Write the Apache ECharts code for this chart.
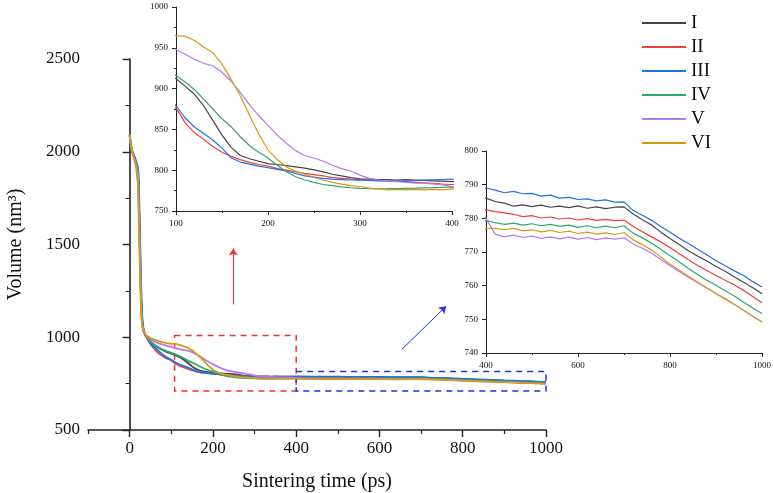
<!DOCTYPE html>
<html>
<head>
<meta charset="utf-8">
<script src="https://cdn.jsdelivr.net/npm/echarts@6/dist/echarts.min.js"></script>
<style>
html,body{margin:0;padding:0;background:#fff;}
#chart{width:774px;height:493px;}
</style>
</head>
<body>
<div id="chart"></div>
<script>
// sintering time (ps)
const times = [0,5,10,15,20,22,25,28,30,33,36,40,50,60,70,80,90,
  100,110,120,130,140,150,160,170,180,190,200,210,220,230,240,250,260,270,280,290,300,310,320,330,340,350,360,370,380,390,400,
  420,440,460,480,500,520,540,560,580,600,620,640,660,680,700,720,740,760,780,800,820,840,860,880,900,920,940,960,980,1000];

// volume (nm^3) for each case
const volI = [2088,2010,1975,1945,1900,1780,1450,1180,1090,1040,1022,1008,978,958,942,930,920,
  912,903,893,879,861,843,828,818,814,811,808,807,805.5,804,802.5,800.5,798,795,793,791,789.5,789,788.5,788.5,788,788.5,788,787.5,787,786.5,786,
  785.0,784.5,783.6,784.0,783.5,783.9,783.3,783.6,783.2,783.7,783.0,783.4,782.9,783.3,783.4,781.3,779.6,778.0,775.9,774.0,772.2,770.4,768.8,767.3,765.7,764.3,762.6,761.0,759.4,757.6];
const volII = [2088,2008,1972,1940,1890,1760,1430,1160,1080,1035,1015,1000,962,935,912,897,885,
  876,858,846,838,829,822,817,813,809.5,807,805,802,800,798,796,794.5,793,791,790,789,788.5,788,787.5,787,786.5,786,785,784.5,784,783,782.5,
  782.0,781.6,781.2,780.5,780.8,780.1,780.4,779.8,780.1,779.5,779.9,779.4,779.7,779.3,779.5,777.6,776.0,774.5,773.0,771.3,769.5,767.7,766.0,764.5,763.0,761.6,760.2,758.6,756.8,754.9];
const volIII = [2085,2005,1985,1955,1915,1850,1560,1250,1120,1050,1025,1005,968,945,925,905,890,
  879,864,853,845,837,827,815,810,807.5,805,803,801,799,796,793,791.5,790,789,788.5,788,787.8,787.5,787,786.8,786.8,787,787.3,787.8,788.2,788.6,789,
  788.4,787.6,788.0,787.3,787.4,786.6,786.9,786.0,786.2,785.6,785.8,785.2,785.5,784.8,784.9,782.3,780.9,779.4,777.6,775.9,774.1,772.5,770.8,769.2,767.4,765.9,764.4,763.0,761.2,759.6];
const volIV = [2088,2008,1975,1945,1895,1770,1440,1170,1085,1040,1020,1006,978,958,945,933,924,
  916,908,899,887,875,863,853,841,830,822,815,806,798,792,788,785,782.5,781,779.5,778.5,777.8,777.4,777.2,777.3,777.5,777.8,778,778.3,778.6,779,779.4,
  778.7,778.2,778.6,778.0,778.4,777.8,778.2,777.6,778.0,777.3,777.8,777.2,777.7,777.2,777.8,775.6,774.2,772.6,770.8,768.9,767.1,765.1,763.3,761.6,760.1,758.5,756.9,755.1,753.4,751.7];
const volV = [2090,2010,1970,1935,1870,1700,1380,1130,1070,1035,1020,1008,990,977,967,960,954,
  948,942,936,931,928,920,909,895,880,867,855,843,833,824,818,815,811,806,802,799,794,790,788,787,786,785,784,784,783,782,780,
  775.3,774.5,775.0,774.3,774.7,774.0,774.5,773.9,774.4,773.8,774.3,773.7,774.2,773.8,774.2,772.4,771.1,769.6,767.8,765.9,764.2,762.5,760.9,759.3,757.7,756.2,754.4,752.7,750.9,749.2];
const volVI = [2092,2012,1965,1925,1820,1620,1330,1110,1060,1035,1022,1010,996,987,979,972,968,
  965,964,959,951,944,930,911,891,867,844,825,813,804,799,795,791,788,785,783,781,780,778,777,776,776.5,776,776.5,776,776.5,776,777,
  777.0,776.6,777.0,776.3,776.6,776.0,776.4,775.8,776.2,775.5,775.9,775.3,775.7,775.2,775.8,773.6,772.2,770.6,768.5,766.4,764.6,762.8,761.0,759.3,757.6,756.0,754.4,752.7,750.9,749.2];

const names = ['I','II','III','IV','V','VI'];
const volumes = [volI, volII, volIII, volIV, volV, volVI];
const colors = ['#454545','#f0403c','#2270e6','#2fa86c','#b37af0','#d69c16'];

// zoom boxes and arrows (data coords of main plot)
const redBox = [[108,1010],[400,710]];
const blueBox = [[400,815],[1000,710]];
const redArrow = [[249,1177],[249,1478]];
const blueArrow = [[654,935],[760,1167]];

const mainXMajor = [0,200,400,600,800,1000];
const mainXMinor = [-100,100,300,500,700,900];

const serif = 'Liberation Serif';
const plain = function(v){ return String(v); };
const chart = echarts.init(document.getElementById('chart'));

function axisBase(size){
  return {
    axisLine:{show:true,lineStyle:{color:'#222',width:size>12?1.6:1}},
    axisTick:{show:true,length:size>12?7:4,lineStyle:{color:'#222',width:size>12?1.4:1}},
    minorTick:{show:true,splitNumber:2,length:size>12?4:2,lineStyle:{color:'#222'}},
    splitLine:{show:false},
    axisLabel:{color:'#111',fontFamily:serif,fontSize:size,formatter:plain}
  };
}

const series = [];
[0,1,2].forEach(function(g){
  names.forEach(function(n,i){
    const s = {
      name:n, type:'line', xAxisIndex:g===0?0:g+1, yAxisIndex:g,
      data: times.map(function(t,k){return [t, volumes[i][k]];}),
      showSymbol:false, symbol:'none', clip:true,
      lineStyle:{color:colors[i],width:g===0?1.8:1.2},
      itemStyle:{color:colors[i]},
      z:2+i
    };
    if(g===0 && i===0){
      s.markArea = {
        silent:true,
        itemStyle:{color:'rgba(0,0,0,0)',borderWidth:1.5,borderType:[6,5]},
        data:[
          [{coord:redBox[0],itemStyle:{borderColor:'#f03030'}},{coord:redBox[1]}],
          [{coord:blueBox[0],itemStyle:{borderColor:'#2030e0'}},{coord:blueBox[1]}]
        ]
      };
      s.markLine = {
        silent:true, symbol:['none','arrow'], symbolSize:7,
        label:{show:false},
        data:[
          [{coord:redArrow[0],lineStyle:{color:'#f03030',width:1,type:'solid'}},{coord:redArrow[1]}],
          [{coord:blueArrow[0],lineStyle:{color:'#2030e0',width:1,type:'solid'}},{coord:blueArrow[1]}]
        ]
      };
    }
    series.push(s);
  });
});

chart.setOption({
  animation:false,
  backgroundColor:'#fff',
  legend:{
    data:names, orient:'vertical', left:637, top:8,
    icon:'rect', itemWidth:44, itemHeight:2, itemGap:4,
    textStyle:{fontFamily:serif,fontSize:19,color:'#111',lineHeight:20}
  },
  grid:[
    {left:88, top:59, right:228, bottom:63, outerBoundsMode:'none'},
    {left:176, top:7, right:322, bottom:282, outerBoundsMode:'none'},
    {left:486, top:151, right:12, bottom:140, outerBoundsMode:'none'}
  ],
  xAxis:[
    Object.assign(axisBase(17),{
      gridIndex:0, type:'value', min:-100, max:1000, position:'bottom',
      name:'Sintering time (ps)', nameLocation:'middle', nameGap:42,
      nameTextStyle:{fontFamily:serif,fontSize:20,color:'#111'},
      axisTick:{show:true,length:7,customValues:mainXMajor,lineStyle:{color:'#222',width:1.4}},
      axisLabel:{color:'#111',fontFamily:serif,fontSize:17,margin:10,customValues:mainXMajor,formatter:plain},
      minorTick:{show:false}
    }),
    {
      gridIndex:0, type:'value', min:-100, max:1000, position:'bottom',
      axisLine:{show:false}, axisLabel:{show:false}, splitLine:{show:false},
      axisTick:{show:true,length:4,customValues:mainXMinor,lineStyle:{color:'#222',width:1.2}}
    },
    Object.assign(axisBase(9),{gridIndex:1, type:'value', min:100, max:400, interval:100}),
    Object.assign(axisBase(9),{gridIndex:2, type:'value', min:400, max:1000, interval:200})
  ],
  yAxis:[
    Object.assign(axisBase(17),{
      gridIndex:0, type:'value', min:500, max:2500, interval:500,
      name:'Volume (nm³)', nameLocation:'middle', nameGap:62,
      nameTextStyle:{fontFamily:serif,fontSize:20,color:'#111'}
    }),
    Object.assign(axisBase(9),{gridIndex:1, type:'value', min:750, max:1000, interval:50}),
    Object.assign(axisBase(9),{gridIndex:2, type:'value', min:740, max:800, interval:10, minorTick:{show:false}})
  ],
  series:series
});
</script>
</body>
</html>
